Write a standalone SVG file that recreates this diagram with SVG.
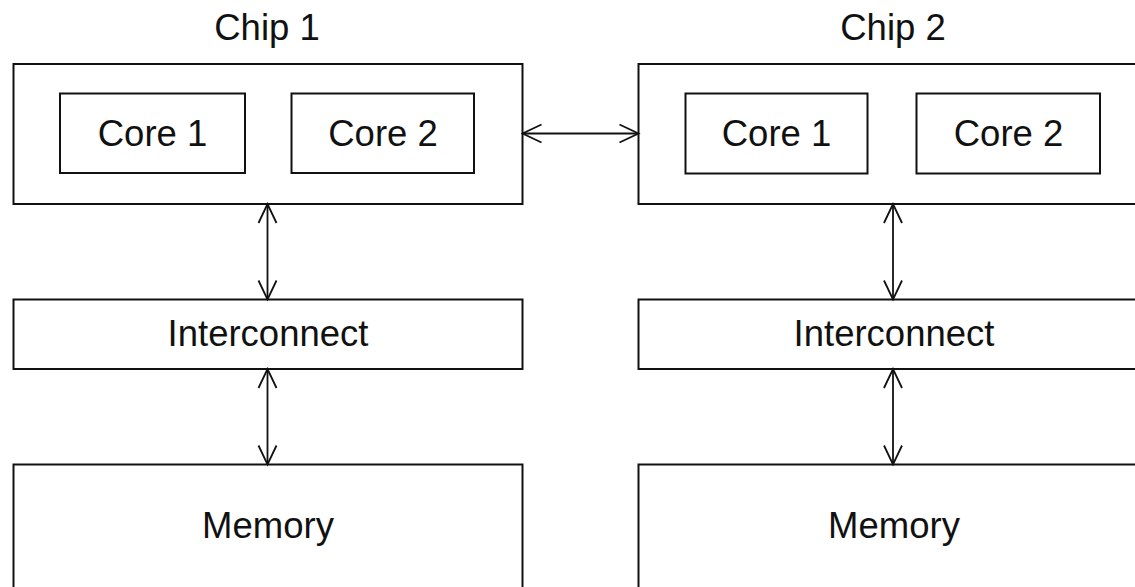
<svg xmlns="http://www.w3.org/2000/svg" width="1135" height="587" viewBox="0 0 1135 587">
<style>
.box{fill:#fff;stroke:#111;stroke-width:2}
.lbl{font-family:"Liberation Sans",Arial,sans-serif;font-size:36.5px;fill:#111;text-anchor:middle}
.conn{stroke:#111;stroke-width:1.8;fill:none;marker-start:url(#ah);marker-end:url(#ah)}
</style>
<defs>
<marker id="ah" viewBox="0 0 22 22" markerUnits="userSpaceOnUse" markerWidth="22" markerHeight="22" refX="20" refY="11" orient="auto-start-reverse">
<path d="M1,2 L20,11 L1,20" fill="none" stroke="#111" stroke-width="1.8"/>
</marker>
</defs>
<rect width="1135" height="587" fill="#fff"/>
<g id="chip1">
<text class="lbl" x="267" y="40">Chip 1</text>
<rect class="box" x="13.5" y="64" width="509" height="140"/>
</g>
<g id="chip1-core1"><rect class="box" x="60" y="93.5" width="185" height="79.5"/><text class="lbl" x="152.5" y="145.5">Core 1</text></g>
<g id="chip1-core2"><rect class="box" x="291.5" y="93.5" width="182.5" height="79.5"/><text class="lbl" x="383" y="145.5">Core 2</text></g>
<g id="chip1-interconnect"><rect class="box" x="13.5" y="299.5" width="509" height="69.5"/><text class="lbl" x="268" y="345.5">Interconnect</text></g>
<g id="chip1-memory"><rect class="box" x="13.5" y="464.5" width="509" height="160"/><text class="lbl" x="268" y="538">Memory</text></g>
<g id="chip2">
<text class="lbl" x="893" y="40">Chip 2</text>
<rect class="box" x="638.5" y="64" width="509" height="140"/>
</g>
<g id="chip2-core1"><rect class="box" x="685.5" y="93.5" width="182" height="80"/><text class="lbl" x="776.5" y="145.5">Core 1</text></g>
<g id="chip2-core2"><rect class="box" x="916.5" y="93.5" width="183.5" height="80"/><text class="lbl" x="1008.5" y="145.5">Core 2</text></g>
<g id="chip2-interconnect"><rect class="box" x="638.5" y="299.5" width="509" height="69.5"/><text class="lbl" x="894" y="345.5">Interconnect</text></g>
<g id="chip2-memory"><rect class="box" x="638.5" y="464.5" width="509" height="160"/><text class="lbl" x="894" y="538">Memory</text></g>
<g id="connectors">
<line class="conn" x1="522.5" y1="133.5" x2="638.5" y2="133.5"/>
<line class="conn" x1="267.5" y1="204" x2="267.5" y2="299.5"/>
<line class="conn" x1="267.5" y1="369" x2="267.5" y2="464.5"/>
<line class="conn" x1="893" y1="204" x2="893" y2="299.5"/>
<line class="conn" x1="893" y1="369" x2="893" y2="464.5"/>
</g>
</svg>
